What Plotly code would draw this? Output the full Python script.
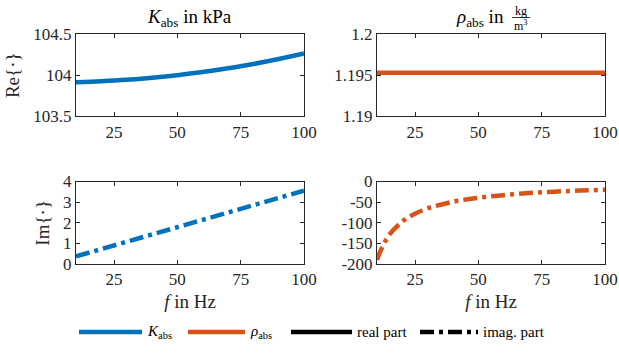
import plotly.graph_objects as go
from plotly.subplots import make_subplots

# ---- data ----
f_k = [10, 20, 30, 40, 50, 60, 70, 80, 90, 100]
K_re = [103.916, 103.927, 103.944, 103.969, 104.000, 104.038, 104.084, 104.136, 104.196, 104.263]
K_im = [0.37, 0.72, 1.08, 1.43, 1.79, 2.14, 2.50, 2.85, 3.21, 3.56]

f_rho = [10, 12, 15, 20, 25, 30, 40, 50, 60, 70, 80, 90, 100]
rho_re = [1.1953] * len(f_rho)
rho_im = [-190, -160, -128, -97, -78, -65, -49, -39.5, -33, -28, -24.5, -22, -20]

x_ticks = [25, 50, 75, 100]
y_ticks_Kre = [103.5, 104, 104.5]
y_ticks_rhore = [1.19, 1.195, 1.2]
y_ticks_Kim = [0, 1, 2, 3, 4]
y_ticks_rhoim = [0, -50, -100, -150, -200]

legend_labels = ["<i>K</i><sub>abs</sub>", "<i>ρ</i><sub>abs</sub>", "real part", "imag. part"]

BLUE = "#0072BD"
ORANGE = "#D95319"
FONT = "Liberation Serif"
AX = "#262626"
LW = 4.5
DASHDOT = "14px,5px,4px,5px"

fig = make_subplots(rows=2, cols=2, horizontal_spacing=0.138, vertical_spacing=0.283)

fig.add_trace(go.Scatter(x=f_k, y=K_re, mode="lines", line=dict(color=BLUE, width=LW, shape="spline"),
                         name=legend_labels[0], showlegend=False), row=1, col=1)
fig.add_trace(go.Scatter(x=f_rho, y=rho_re, mode="lines", line=dict(color=ORANGE, width=LW),
                         name=legend_labels[1], showlegend=False), row=1, col=2)
fig.add_trace(go.Scatter(x=f_k, y=K_im, mode="lines", line=dict(color=BLUE, width=LW, dash=DASHDOT),
                         showlegend=False), row=2, col=1)
fig.add_trace(go.Scatter(x=f_rho, y=rho_im, mode="lines", line=dict(color=ORANGE, width=LW, dash=DASHDOT, shape="spline"),
                         showlegend=False), row=2, col=2)

axis_common = dict(showline=True, linecolor=AX, linewidth=1, mirror="allticks", ticks="inside",
                   ticklen=4, tickcolor=AX, showgrid=False, zeroline=False, automargin=False,
                   tickfont=dict(family=FONT, size=17, color=AX))

for r in (1, 2):
    for c in (1, 2):
        fig.update_xaxes(range=[10, 100], tickvals=x_ticks, ticktext=[str(v) for v in x_ticks],
                         row=r, col=c, **axis_common)

fig.update_xaxes(title=dict(text="<i>f</i> in Hz", font=dict(family=FONT, size=19, color=AX), standoff=6), row=2, col=1)
fig.update_xaxes(title=dict(text="<i>f</i> in Hz", font=dict(family=FONT, size=19, color=AX), standoff=6), row=2, col=2)

fig.update_yaxes(range=[103.5, 104.5], tickvals=y_ticks_Kre, ticktext=["103.5", "104", "104.5"],
                 title=dict(text="Re{·}", font=dict(family=FONT, size=19, color=AX), standoff=8),
                 row=1, col=1, **axis_common)
fig.update_yaxes(range=[1.19, 1.2], tickvals=y_ticks_rhore, ticktext=["1.19", "1.195", "1.2"],
                 row=1, col=2, **axis_common)
fig.update_yaxes(range=[0, 4], tickvals=y_ticks_Kim, ticktext=[str(v) for v in y_ticks_Kim],
                 title=dict(text="Im{·}", font=dict(family=FONT, size=19, color=AX), standoff=8),
                 row=2, col=1, **axis_common)
fig.update_yaxes(range=[-200, 0], tickvals=y_ticks_rhoim, ticktext=[str(v) for v in y_ticks_rhoim],
                 row=2, col=2, **axis_common)

# panel titles
fig.add_annotation(xref="x domain", yref="y domain", x=0.5, y=1.0, yanchor="bottom", yshift=2,
                   text="<i>K</i><sub>abs</sub> in kPa", showarrow=False,
                   font=dict(family=FONT, size=19, color="black"))
fig.add_annotation(xref="x2 domain", yref="y2 domain", x=0.565, y=1.0, xanchor="right", yanchor="bottom", yshift=2,
                   text="<i>ρ</i><sub>abs</sub> in", showarrow=False,
                   font=dict(family=FONT, size=19, color="black"))
fig.add_annotation(xref="x2 domain", yref="y2 domain", x=0.632, y=1.0, xanchor="center", yanchor="bottom", yshift=14,
                   text="kg", showarrow=False, font=dict(family=FONT, size=12, color="black"))
fig.add_annotation(xref="x2 domain", yref="y2 domain", x=0.632, y=1.0, xanchor="center", yanchor="bottom", yshift=-1,
                   text="m<sup>3</sup>", showarrow=False, font=dict(family=FONT, size=12, color="black"))
fig.add_shape(type="line", xref="x2 domain", yref="y2 domain", x0=0.592, x1=0.672, y0=1.2, y1=1.2,
              line=dict(color="black", width=0.8))

# legend (drawn as a row of swatches + labels below the panels)
W_PLOT = 529.0
H_PLOT = 230.0
def px_x(px):
    return (px - 76) / W_PLOT
def px_y(py):
    return (264 - py) / H_PLOT

leg_items = [
    (79, 142, BLUE, None),
    (188, 245, ORANGE, None),
    (291, 352, "black", None),
    (420, 478, "black", DASHDOT),
]
leg_y = px_y(332)
for (x0, x1, col, dash), lab in zip(leg_items, legend_labels):
    fig.add_shape(type="line", xref="paper", yref="paper", x0=px_x(x0), x1=px_x(x1), y0=leg_y, y1=leg_y,
                  line=dict(color=col, width=LW, dash=dash) if dash else dict(color=col, width=LW))
    fig.add_annotation(xref="paper", yref="paper", x=px_x(x1 + 3), y=leg_y, xanchor="left", yanchor="middle",
                       text=lab, showarrow=False, font=dict(family=FONT, size=15, color="black"))

fig.update_layout(
    width=619, height=354,
    margin=dict(l=76, r=14, t=34, b=90),
    paper_bgcolor="white", plot_bgcolor="white",
    font=dict(family=FONT, size=15, color="black"),
    showlegend=False,
)

fig.write_html("out.html", config={"displayModeBar": False},
               post_script="document.body.style.margin='0';document.body.style.overflow='hidden';")
